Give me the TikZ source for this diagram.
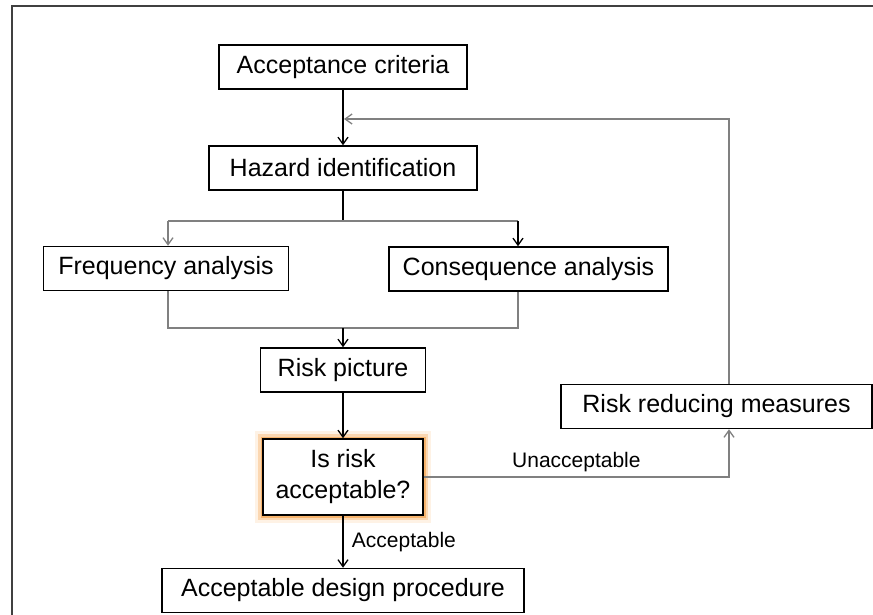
\documentclass[tikz,border=0pt]{standalone}
\usepackage{fontspec}
\setmainfont{Liberation Sans}
\usetikzlibrary{arrows.meta}
\definecolor{alone}{RGB}{245,165,80}
\begin{document}
\begin{tikzpicture}[x=1pt, y=-1pt,
		blocco/.style={draw, line width=1.5pt, fill=white, minimum height=44pt, inner sep=0pt, align=center, font=\fontsize{25}{31}\selectfont},
		decisione/.style={preaction={draw=alone, line width=16pt, opacity=0.15},
			preaction={draw=alone, line width=10pt, opacity=0.35},
			preaction={draw=alone, line width=5pt, opacity=0.7}},
		linea/.style={color=black, line width=1.3pt},
		grigio/.style={color=black!50, line width=1.6pt},
		freccia/.style={-{Straight Barb[length=7pt, width=10pt, line width=1.3pt]}},
		etichetta/.style={color=black, font=\fontsize{21}{24}\selectfont}]
		\useasboundingbox (0,0) rectangle (873,615);
		% cornice
		\draw[color=black!75, line width=2pt] (12,615) -- (12,6) -- (873,6);
		
		% blocchi
		\node[blocco, minimum width=248pt] (crit) at (343,67) {Acceptance criteria};
		\node[blocco, minimum width=268pt] (haz) at (343,168) {Hazard identification};
		\node[blocco, minimum width=245pt] (freq) at (166,268.5) {Frequency analysis};
		\node[blocco, minimum width=279pt] (cons) at (528.5,269) {Consequence analysis};
		\node[blocco, minimum width=165pt] (pic) at (343,370) {Risk picture};
		\node[blocco, decisione, minimum width=160pt, minimum height=76pt] (acc) at (343,477) {Is risk\\acceptable?};
		\node[blocco, minimum width=311pt] (rrm) at (716.5,406.5) {Risk reducing measures};
		\node[blocco, minimum width=362pt] (des) at (343,590.5) {Acceptable design procedure};
		
		% punti di snodo
		\coordinate (split) at (343,221);
		\coordinate (splitL) at (168,221);
		\coordinate (splitR) at (518,221);
		\coordinate (merge) at (343,328);
		\coordinate (mergeL) at (168,328);
		\coordinate (mergeR) at (518,328);
		\coordinate (ret) at (729,119);
		\coordinate (fb) at (344,119);
		
		% frecce
		\draw[linea, freccia] (crit) -- (haz);
		\draw[linea] (haz) -- (split);
		\draw[grigio] (splitL) -- (splitR);
		\draw[grigio, freccia] (splitL) -- (splitL |- freq.north);
		\draw[linea, freccia] (splitR) -- (splitR |- cons.north);
		\draw[grigio] (freq.south -| mergeL) -- (mergeL) -- (mergeR) -- (cons.south -| mergeR);
		\draw[linea, freccia] (merge) -- (pic);
		\draw[linea, freccia] (pic) -- (acc);
		\draw[linea, freccia] (acc) -- node[etichetta, right, xshift=5pt] {Acceptable} (des);
		\draw[grigio, freccia] (acc.east) -- node[etichetta, above, yshift=1pt] {Unacceptable} (acc.east -| ret) -- (rrm.south -| ret);
		\draw[grigio, freccia] (rrm.north -| ret) -- (ret) -- (fb);
	\end{tikzpicture}
\end{document}
